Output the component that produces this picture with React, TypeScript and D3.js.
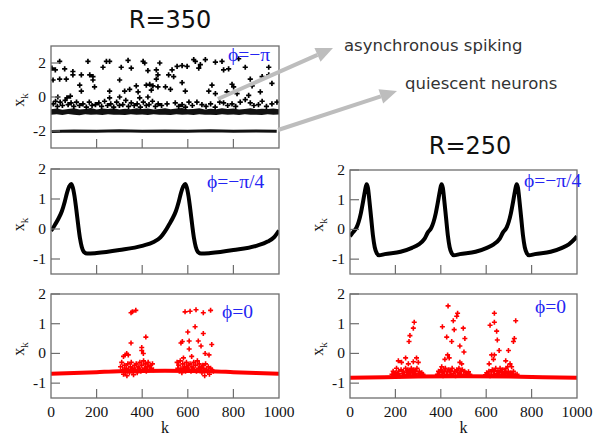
import React from 'react';
import * as d3 from 'd3';

const W = 595;
const H = 439;

const kTicks = [0, 200, 400, 600, 800, 1000];
const innerKTicks = [200, 400, 600, 800];
const yTicksTop = [-2, 0, 2];
const yTicksLower = [-1, 0, 1, 2];

// R=350, phi=-pi : scattered spiking neurons [k, x]
const tlScatter: [number, number][] = [
  [38, 2.1], [162, 2.1], [243, 2.1], [257, 2.1], [338, 2.15], [404, 2.1], [411, 2.0], [477, 2.0],
  [4, 1.7], [19, 1.6], [60, 1.65], [96, 1.5], [228, 1.75], [308, 1.75], [352, 1.7], [425, 1.55], [462, 1.6],
  [96, 1.3], [133, 1.3], [170, 1.3], [184, 1.2], [469, 1.3],
  [9, 1.0], [38, 1.05], [67, 1.05], [184, 1.0], [301, 1.0], [462, 1.05],
  [126, 0.7], [191, 0.6], [374, 0.65], [418, 0.7], [433, 0.75], [447, 0.65], [469, 0.6],
  [133, 0.35], [257, 0.35], [323, 0.35], [382, 0.3], [345, 0.45], [440, 0.4],
  [30, 0.0], [70, -0.05], [85, 0.05], [257, -0.05], [301, 0.0], [389, -0.05], [425, 0.0],
  [626, 2.2], [633, 2.1], [677, 2.2], [721, 2.05], [750, 2.1], [655, 1.9], [823, 2.25], [955, 1.75],
  [553, 1.8], [575, 1.85], [597, 1.8], [531, 1.6], [648, 1.7], [757, 1.6], [779, 1.65], [852, 1.75],
  [516, 1.3], [538, 1.2], [874, 1.05], [926, 1.2], [955, 1.3],
  [502, 0.6], [575, 0.85], [706, 0.7], [794, 0.75], [801, 0.6], [882, 0.65], [969, 0.8],
  [524, 0.45], [589, 0.35], [692, 0.35], [721, 0.2], [772, 0.3], [816, 0.2], [867, 0.1], [918, 0.3],
  [10, -0.4], [20, -0.25], [28, -0.55], [40, -0.3], [50, -0.5], [62, -0.2], [75, -0.45], [88, -0.35],
  [100, -0.55], [112, -0.3], [125, -0.5], [140, -0.4], [155, -0.6], [168, -0.3], [180, -0.5], [195, -0.45],
  [210, -0.35], [222, -0.55], [235, -0.25], [248, -0.5], [262, -0.4], [275, -0.6], [288, -0.3], [300, -0.5],
  [315, -0.45], [328, -0.2], [340, -0.55], [352, -0.35], [365, -0.5], [378, -0.4], [392, -0.6], [405, -0.3],
  [418, -0.5], [430, -0.45], [445, -0.25], [458, -0.55], [470, -0.4], [485, -0.5], [509, -0.4], [545, -0.35],
  [560, -0.55], [575, -0.45], [590, -0.6], [605, -0.3], [620, -0.5], [640, -0.3], [662, -0.45], [680, -0.55],
  [700, -0.4], [720, -0.6], [740, -0.3], [757, -0.35], [775, -0.5], [794, -0.4], [810, -0.55], [830, -0.3],
  [852, -0.15], [874, -0.35], [890, -0.5], [910, -0.45], [926, -0.25], [945, -0.55], [969, -0.4], [991, -0.3],
];

// dense band of asynchronous neurons near the rest state [k, low, high]
const tlBand: [number, number, number][] = [
  [0, -1.05, -0.72], [25, -1.02, -0.68], [50, -1.06, -0.75], [75, -1.0, -0.7], [100, -1.04, -0.66],
  [125, -1.07, -0.74], [150, -1.02, -0.7], [175, -1.05, -0.65], [200, -1.03, -0.73], [225, -1.06, -0.68],
  [250, -1.01, -0.7], [275, -1.05, -0.66], [300, -1.04, -0.74], [325, -1.06, -0.69], [350, -1.02, -0.72],
  [375, -1.05, -0.66], [400, -1.03, -0.71], [425, -1.06, -0.68], [450, -1.02, -0.74], [475, -1.05, -0.7],
  [500, -1.04, -0.66], [525, -1.06, -0.72], [550, -1.02, -0.68], [575, -1.05, -0.65], [600, -1.03, -0.72],
  [625, -1.06, -0.7], [650, -1.02, -0.66], [675, -1.05, -0.74], [700, -1.04, -0.69], [725, -1.06, -0.72],
  [750, -1.01, -0.66], [775, -1.05, -0.71], [800, -1.03, -0.68], [825, -1.06, -0.74], [850, -1.02, -0.7],
  [875, -1.05, -0.66], [900, -1.04, -0.72], [925, -1.06, -0.69], [950, -1.02, -0.71], [975, -1.05, -0.67],
  [1000, -1.03, -0.72],
];

// quiescent neurons [k, x]
const tlQuiescent: [number, number][] = [
  [3, -2.03], [100, -2.0], [200, -2.02], [300, -1.99], [400, -2.01], [500, -2.0],
  [600, -2.02], [700, -1.99], [800, -2.01], [900, -2.0], [990, -2.02],
];

// R=350, phi=-pi/4 : travelling wave [k, x]
const mlWave: [number, number][] = [
  [0, -0.05], [3, -0.03], [18, 0.15], [33, 0.35], [48, 0.6], [60, 0.9], [70, 1.2], [80, 1.42], [88, 1.5],
  [95, 1.4], [103, 1.1], [111, 0.65], [119, 0.15], [127, -0.3], [135, -0.6], [144, -0.76], [158, -0.82],
  [200, -0.8], [300, -0.7], [400, -0.56], [450, -0.43], [480, -0.28], [500, -0.08],
  [518, 0.15], [533, 0.35], [548, 0.6], [560, 0.9], [570, 1.2], [580, 1.42], [588, 1.5],
  [595, 1.4], [603, 1.1], [611, 0.65], [619, 0.15], [627, -0.3], [635, -0.6], [644, -0.76], [658, -0.82],
  [700, -0.8], [800, -0.7], [900, -0.56], [950, -0.42], [980, -0.26], [1000, -0.05],
];

// R=250, phi=-pi/4 : travelling wave [k, x]
const mrWave: [number, number][] = [
  [0, -0.23], [13, -0.1], [28, 0.05], [38, 0.25], [48, 0.55], [58, 0.95], [66, 1.3], [73, 1.52],
  [79, 1.4], [85, 1.0], [93, 0.4], [101, -0.2], [109, -0.6], [118, -0.8], [128, -0.87], [153, -0.83],
  [223, -0.75], [273, -0.62], [303, -0.5], [328, -0.32], [343, -0.1], [358, 0.05], [368, 0.25],
  [378, 0.55], [388, 0.95], [396, 1.3], [403, 1.52], [409, 1.4], [415, 1.0], [423, 0.4], [431, -0.2],
  [439, -0.6], [448, -0.8], [458, -0.87], [483, -0.83], [553, -0.75], [603, -0.62], [633, -0.5],
  [659, -0.32], [674, -0.1], [689, 0.05], [699, 0.25], [709, 0.55], [719, 0.95], [727, 1.3], [734, 1.52],
  [740, 1.4], [746, 1.0], [754, 0.4], [762, -0.2], [770, -0.6], [779, -0.8], [789, -0.87], [814, -0.83],
  [884, -0.75], [934, -0.62], [964, -0.5], [990, -0.32], [1000, -0.23],
];

// R=350, phi=0 : rest level and spiking bursts
const blBase: [number, number][] = [
  [0, -0.68], [100, -0.66], [200, -0.63], [300, -0.6], [500, -0.58], [700, -0.6], [800, -0.63], [900, -0.66], [1000, -0.68],
];
const blScatter: [number, number][] = [
  [305, -0.45], [310, -0.3], [315, -0.55], [318, -0.7], [322, -0.4], [326, -0.6], [330, -0.5], [333, -0.75],
  [337, -0.35], [340, -0.55], [344, -0.65], [348, -0.45], [352, -0.3], [355, -0.6], [358, -0.5], [362, -0.72],
  [366, -0.4], [370, -0.55], [374, -0.35], [378, -0.65], [382, -0.45], [386, -0.5], [390, -0.3], [394, -0.6],
  [398, -0.4], [402, -0.55], [406, -0.25], [410, -0.5], [414, -0.35], [418, -0.6], [422, -0.45], [426, -0.3],
  [430, -0.55], [435, -0.4], [440, -0.5], [445, -0.35], [449, -0.55],
  [318, -0.1], [325, -0.05], [332, 0.0], [339, -0.05], [351, 0.35], [351, 1.37], [357, 1.4], [372, 1.45],
  [398, 0.2], [398, 0.1], [405, 0.0], [416, 0.55],
  [553, -0.3], [556, -0.5], [560, -0.4], [563, -0.6], [567, -0.25], [570, -0.5], [574, -0.65], [578, -0.35],
  [582, -0.55], [586, -0.45], [590, -0.6], [594, -0.3], [598, -0.5], [602, -0.4], [606, -0.55], [610, -0.35],
  [614, -0.6], [618, -0.45], [622, -0.5], [626, -0.3], [630, -0.55], [634, -0.4], [638, -0.6], [642, -0.25],
  [646, -0.5], [650, -0.35], [654, -0.55], [658, -0.45], [662, -0.65], [666, -0.4], [670, -0.5], [674, -0.75],
  [678, -0.35], [682, -0.55], [686, -0.6], [690, -0.45], [695, -0.7], [700, -0.5], [706, -0.55], [712, -0.6],
  [570, 0.35], [576, 0.4], [581, -0.15], [588, 1.4], [600, 0.72], [606, 0.42], [606, 0.15], [610, 1.42],
  [617, -0.1], [632, 0.9], [636, 1.47], [646, 0.42], [658, 0.25], [668, 0.67], [668, 1.37], [676, 0.0],
  [693, -0.05], [700, 1.45], [705, 0.3],
];

// R=250, phi=0 : rest level and spiking bursts
const brBase: [number, number][] = [
  [0, -0.82], [150, -0.8], [300, -0.78], [500, -0.77], [700, -0.78], [850, -0.8], [1000, -0.82],
];
const brScatter: [number, number][] = [
  [185, -0.7], [190, -0.6], [195, -0.75], [200, -0.65], [205, -0.5], [210, -0.7], [215, -0.6], [220, -0.75],
  [225, -0.55], [230, -0.68], [235, -0.6], [240, -0.72], [245, -0.5], [250, -0.65], [255, -0.55], [260, -0.7],
  [265, -0.6], [270, -0.5], [275, -0.65], [280, -0.55], [285, -0.7], [290, -0.6], [295, -0.5], [300, -0.68],
  [305, -0.6], [310, -0.72], [316, -0.65], [322, -0.7],
  [213, -0.25], [227, -0.3], [245, -0.15], [257, -0.35], [260, 0.4], [264, 0.6], [279, 0.85], [283, 1.05],
  [279, -0.28], [293, -0.15], [301, -0.3],
  [385, -0.7], [390, -0.6], [395, -0.72], [400, -0.55], [405, -0.65], [410, -0.75], [415, -0.6], [420, -0.5],
  [425, -0.7], [430, -0.62], [435, -0.55], [440, -0.72], [445, -0.6], [450, -0.5], [455, -0.68], [460, -0.6],
  [465, -0.75], [470, -0.55], [475, -0.65], [480, -0.5], [485, -0.7], [490, -0.6], [495, -0.55], [500, -0.72],
  [505, -0.6], [510, -0.65], [516, -0.7], [522, -0.62], [528, -0.7],
  [404, -0.45], [407, 0.9], [418, -0.2], [426, 0.55], [430, -0.05], [432, 1.6], [437, -0.15], [448, 0.4],
  [455, 1.1], [459, 0.8], [470, 1.25], [474, 1.35], [484, 0.25], [484, -0.3], [492, -0.35], [499, 0.85],
  [502, 0.05], [506, 0.5],
  [597, -0.72], [602, -0.65], [607, -0.7], [612, -0.6], [617, -0.75], [622, -0.62], [627, -0.55], [632, -0.7],
  [637, -0.6], [642, -0.5], [647, -0.68], [652, -0.58], [657, -0.72], [662, -0.6], [667, -0.65], [672, -0.55],
  [677, -0.7], [682, -0.62], [687, -0.5], [692, -0.68], [697, -0.6], [702, -0.72], [708, -0.65], [714, -0.7],
  [720, -0.6], [728, -0.72], [736, -0.7],
  [613, -0.35], [617, 0.95], [624, -0.05], [632, -0.2], [636, 1.35], [636, 1.05], [636, -0.05], [646, 0.75],
  [649, 0.45], [657, 0.1], [661, -0.5], [686, -0.25], [695, -0.45], [698, 0.1], [705, -0.35], [712, -0.45],
  [720, 0.4], [724, 0.5], [730, 1.1],
];

const SERIF = '"Liberation Serif", "Times New Roman", serif';
const SANS = '"DejaVu Sans", sans-serif';
const PHI_FONT = '"Liberation Serif", serif';
const FRAME = '#6e6e6e';
const BLUE = '#2424f2';
const RED = '#ff0000';

type Box = { x0: number; x1: number; y0: number; y1: number };

function plusPath(pts: [number, number][], xs: any, ys: any, r: number) {
  return pts
    .map(([k, v]) => {
      const x = xs(k);
      const y = ys(v);
      return `M${x - r},${y}h${2 * r}M${x},${y - r}v${2 * r}`;
    })
    .join('');
}

function Frame({ id, box, domain, yTicks, xLabels, phi, phiX, phiY, children }: any) {
  const xs = d3.scaleLinear().domain([0, 1000]).range([box.x0, box.x1]);
  const ys = d3.scaleLinear().domain(domain).range([box.y1, box.y0]);
  const midY = (box.y0 + box.y1) / 2;
  return (
    <g>
      <defs>
        <clipPath id={id}>
          <rect x={box.x0} y={box.y0} width={box.x1 - box.x0} height={box.y1 - box.y0} />
        </clipPath>
      </defs>
      <g clipPath={`url(#${id})`}>{children(xs, ys)}</g>
      <rect x={box.x0} y={box.y0} width={box.x1 - box.x0} height={box.y1 - box.y0}
        fill="none" stroke={FRAME} strokeWidth={1.3} />
      {innerKTicks.map((t) => (
        <line key={'xt' + t} x1={xs(t)} x2={xs(t)} y1={box.y1} y2={box.y1 - 9} stroke={FRAME} strokeWidth={1.2} />
      ))}
      {yTicks.map((t: number) => (
        <g key={'yt' + t}>
          <line x1={box.x0} x2={box.x0 + 9} y1={ys(t)} y2={ys(t)} stroke={FRAME} strokeWidth={1.2} />
          <text x={box.x0 - 5} y={ys(t) + 5} textAnchor="end" fontFamily={SERIF} fontSize={15.5} fill="#111">
            {t < 0 ? '-' + Math.abs(t) : String(t)}
          </text>
        </g>
      ))}
      <text transform={`translate(${box.x0 - 27},${midY + 3}) rotate(-90)`} textAnchor="middle"
        fontFamily={SERIF} fontSize={16} fill="#111">
        x<tspan fontSize={11} dy={4}>k</tspan>
      </text>
      {xLabels && kTicks.map((t) => (
        <text key={'xl' + t} x={xs(t)} y={box.y1 + 19} textAnchor="middle" fontFamily={SERIF} fontSize={15.5} fill="#111">
          {t}
        </text>
      ))}
      {xLabels && (
        <text x={(box.x0 + box.x1) / 2} y={box.y1 + 35} textAnchor="middle" fontFamily={SERIF} fontSize={16} fill="#111">k</text>
      )}
      <text x={phiX} y={phiY} fontFamily={PHI_FONT} fontSize={19.5} fill={BLUE}>{phi}</text>
    </g>
  );
}

function Arrow({ x1, y1, x2, y2 }: any) {
  const ang = Math.atan2(y2 - y1, x2 - x1);
  const L = 17;
  const hw = 7.5;
  const bx = x2 - L * Math.cos(ang);
  const by = y2 - L * Math.sin(ang);
  const px = -Math.sin(ang) * hw;
  const py = Math.cos(ang) * hw;
  return (
    <g>
      <line x1={x1} y1={y1} x2={bx} y2={by} stroke="#bdbdbd" strokeWidth={4} />
      <polygon points={`${x2},${y2} ${bx + px},${by + py} ${bx - px},${by - py}`} fill="#bdbdbd" />
    </g>
  );
}

export default function App() {
  const tl: Box = { x0: 51, x1: 279, y0: 46, y1: 148 };
  const ml: Box = { x0: 51, x1: 279, y0: 169, y1: 274 };
  const bl: Box = { x0: 51, x1: 279, y0: 294, y1: 398 };
  const mr: Box = { x0: 350, x1: 577, y0: 170, y1: 274 };
  const br: Box = { x0: 350, x1: 577, y0: 294, y1: 398 };

  const tlx = d3.scaleLinear().domain([0, 1000]).range([tl.x0, tl.x1]);
  const tly = d3.scaleLinear().domain([-3, 3]).range([tl.y1, tl.y0]);

  const waveLine = (xs: any, ys: any) =>
    d3.line<[number, number]>().x((d) => xs(d[0])).y((d) => ys(d[1])).curve(d3.curveMonotoneX);

  return (
    <svg width={W} height={H} style={{ position: 'absolute', left: 0, top: 0, background: '#fff' }}>
      <rect width={W} height={H} fill="#fff" />
      <text x={170} y={28} textAnchor="middle" fontFamily={SANS} fontSize={24} fill="#111">R=350</text>
      <text x={470} y={154} textAnchor="middle" fontFamily={SANS} fontSize={24} fill="#111">R=250</text>

      <Frame id="c-tl" box={tl} domain={[-3, 3]} yTicks={yTicksTop} phi="ϕ=−π" phiX={228} phiY={61}>
        {(xs: any, ys: any) => {
          const area = d3.area<[number, number, number]>().x((d) => xs(d[0])).y0((d) => ys(d[1])).y1((d) => ys(d[2]));
          const ln = d3.line<[number, number]>().x((d) => xs(d[0])).y((d) => ys(d[1]));
          return (
            <g>
              <path d={area(tlBand) || ''} fill="#111" />
              <path d={ln(tlQuiescent) || ''} fill="none" stroke="#111" strokeWidth={3} />
              <path d={plusPath(tlScatter, xs, ys, 2.6)} stroke="#000" strokeWidth={1.7} fill="none" />
            </g>
          );
        }}
      </Frame>

      <Frame id="c-ml" box={ml} domain={[-1.5, 2]} yTicks={yTicksLower} phi="ϕ=−π/4" phiX={207} phiY={188}>
        {(xs: any, ys: any) => (
          <path d={waveLine(xs, ys)(mlWave) || ''} fill="none" stroke="#000" strokeWidth={4} strokeLinejoin="round" />
        )}
      </Frame>

      <Frame id="c-mr" box={mr} domain={[-1.5, 2]} yTicks={yTicksLower} phi="ϕ=−π/4" phiX={524} phiY={187}>
        {(xs: any, ys: any) => (
          <path d={waveLine(xs, ys)(mrWave) || ''} fill="none" stroke="#000" strokeWidth={4} strokeLinejoin="round" />
        )}
      </Frame>

      <Frame id="c-bl" box={bl} domain={[-1.5, 2]} yTicks={yTicksLower} xLabels phi="ϕ=0" phiX={222} phiY={318}>
        {(xs: any, ys: any) => {
          const ln = d3.line<[number, number]>().x((d) => xs(d[0])).y((d) => ys(d[1])).curve(d3.curveMonotoneX);
          return (
            <g>
              <path d={ln(blBase) || ''} fill="none" stroke={RED} strokeWidth={4} />
              <path d={plusPath(blScatter, xs, ys, 2.5)} stroke={RED} strokeWidth={1.6} fill="none" />
            </g>
          );
        }}
      </Frame>

      <Frame id="c-br" box={br} domain={[-1.5, 2]} yTicks={yTicksLower} xLabels phi="ϕ=0" phiX={535} phiY={313}>
        {(xs: any, ys: any) => {
          const ln = d3.line<[number, number]>().x((d) => xs(d[0])).y((d) => ys(d[1])).curve(d3.curveMonotoneX);
          return (
            <g>
              <path d={ln(brBase) || ''} fill="none" stroke={RED} strokeWidth={4} />
              <path d={plusPath(brScatter, xs, ys, 2.5)} stroke={RED} strokeWidth={1.6} fill="none" />
            </g>
          );
        }}
      </Frame>

      <Arrow x1={tlx(732)} y1={tly(-0.12)} x2={333} y2={48} />
      <Arrow x1={tlx(996)} y1={tly(-1.94)} x2={397} y2={91} />
      <text x={344} y={51} fontFamily={SANS} fontSize={16.5} fill="#333">asynchronous spiking</text>
      <text x={405} y={89} fontFamily={SANS} fontSize={16.5} fill="#333">quiescent neurons</text>
    </svg>
  );
}
